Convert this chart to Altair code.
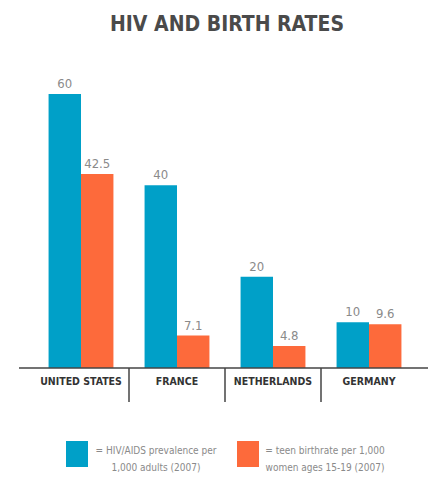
import altair as alt
import pandas as pd

countries = ["UNITED STATES", "FRANCE", "NETHERLANDS", "GERMANY"]
hiv = [60, 40, 20, 10]
teen = [42.5, 7.1, 4.8, 9.6]
series = ["HIV/AIDS", "Teen births"]
colors = ["#00a0c8", "#fd6a3b"]
legend_lines = [["= HIV/AIDS prevalence per", "1,000 adults (2007)"],
                ["= teen birthrate per 1,000", "women ages 15-19 (2007)"]]

def fmt(v):
    return str(int(v)) if float(v).is_integer() else str(v)

rows = []
for c, h, t in zip(countries, hiv, teen):
    rows.append({"country": c, "series": series[0], "value": h, "label": fmt(h)})
    rows.append({"country": c, "series": series[1], "value": t, "label": fmt(t)})
df = pd.DataFrame(rows)
cdf = pd.DataFrame({"country": countries})
ddf = pd.DataFrame({"country": countries[1:]})

NARROW = "DejaVu Sans Condensed, sans-serif"

xs = alt.Scale(domain=countries, range=[33, 417], paddingInner=0, paddingOuter=0)
ys = alt.Scale(domain=[0, 60], range=[368, 94])
cs = alt.Scale(domain=series, range=colors)

X = alt.X("country:N", scale=xs, axis=None, sort=countries)
XO = alt.XOffset("series:N", scale=alt.Scale(domain=series, paddingInner=0, paddingOuter=0.48), sort=series)

bars = alt.Chart(df).mark_bar(stroke=None).encode(
    x=X, xOffset=XO,
    y=alt.Y("value:Q", scale=ys, axis=None),
    color=alt.Color("series:N", scale=cs, legend=None),
)
vals = alt.Chart(df).mark_text(dy=-6, fontSize=13, color="#8a8a8a", font=NARROW, baseline="alphabetic").encode(
    x=X, xOffset=XO,
    y=alt.Y("value:Q", scale=ys, axis=None),
    text="label:N",
)
baseline_rule = alt.Chart(cdf.head(1)).mark_rule(color="#444", strokeWidth=1.5).encode(
    x=alt.value(19), x2=alt.value(428), y=alt.value(368)
)
dividers = alt.Chart(ddf).mark_rule(color="#444", strokeWidth=1.5).encode(
    x=alt.X("country:N", scale=xs, axis=None, sort=countries, bandPosition=0),
    y=alt.value(368), y2=alt.value(402),
)
clabels = alt.Chart(cdf).mark_text(fontSize=10.5, fontWeight="bold", color="#333", font=NARROW).encode(
    x=alt.X("country:N", scale=xs, axis=None, sort=countries, bandPosition=0.5),
    y=alt.value(382),
    text="country:N",
)
title = alt.Chart(cdf.head(1)).mark_text(
    text="HIV AND BIRTH RATES", fontSize=21, fontWeight="bold", color="#4a4a4a", font=NARROW,
    baseline="alphabetic"
).encode(x=alt.value(227), y=alt.value(31))

leg_sq1 = alt.Chart(cdf.head(1)).mark_rect(color=colors[0]).encode(
    x=alt.value(66), x2=alt.value(88), y=alt.value(441), y2=alt.value(467))
leg_sq2 = alt.Chart(cdf.head(1)).mark_rect(color=colors[1]).encode(
    x=alt.value(237), x2=alt.value(259), y=alt.value(441), y2=alt.value(467))
leg_t1 = alt.Chart(cdf.head(1)).mark_text(
    text=legend_lines[0], fontSize=10, color="#8a8a8a", font=NARROW, lineHeight=17, baseline="middle"
).encode(x=alt.value(156), y=alt.value(451))
leg_t2 = alt.Chart(cdf.head(1)).mark_text(
    text=legend_lines[1], fontSize=10, color="#8a8a8a", font=NARROW, lineHeight=17, baseline="middle"
).encode(x=alt.value(325), y=alt.value(451))

chart = alt.layer(
    bars, vals, baseline_rule, dividers, clabels, title, leg_sq1, leg_sq2, leg_t1, leg_t2
).resolve_scale(x="shared").properties(
    width=428, height=480, padding=0, autosize=alt.AutoSizeParams(type="none"), background="white"
).configure_view(stroke=None)

chart.save("out.html", embed_options={"renderer": "svg", "actions": False})
